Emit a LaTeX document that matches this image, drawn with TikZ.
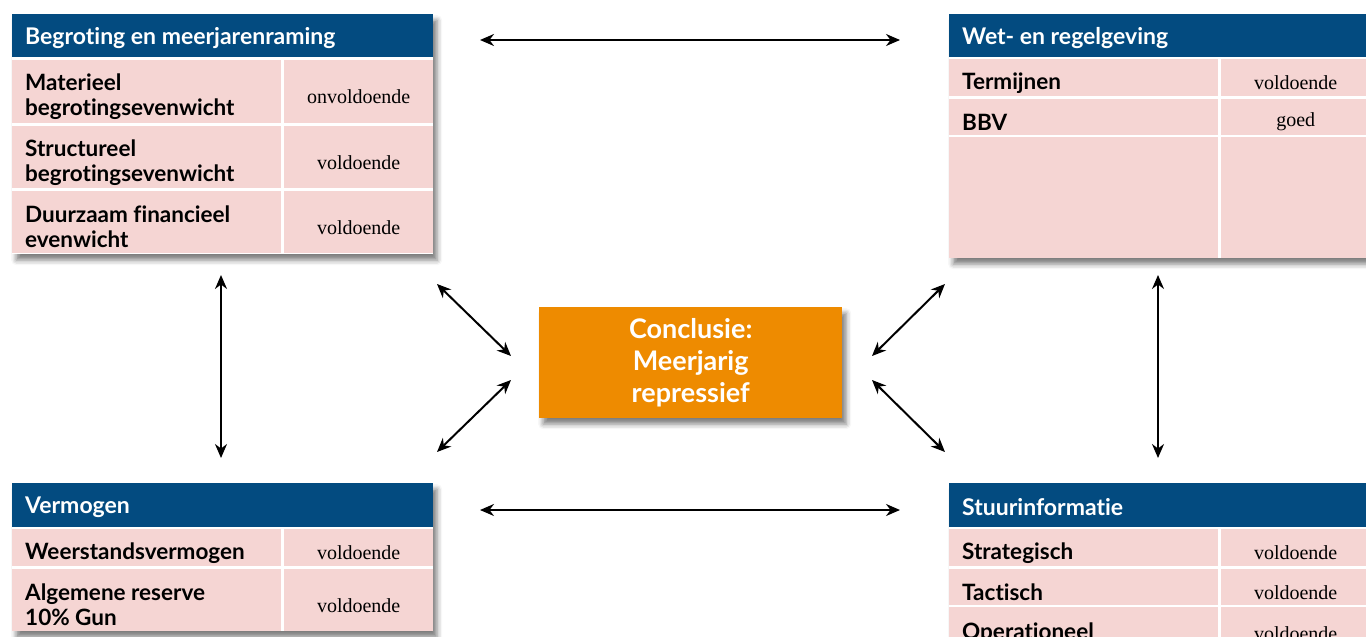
\documentclass[tikz,border=0pt]{standalone}
\usepackage{fontspec}
\setmainfont{Liberation Serif}
\setsansfont{Lato}[Ligatures=NoCommon]
\usetikzlibrary{arrows.meta,shadows.blur}
\definecolor{hdr}{HTML}{034B80}
\definecolor{pinkc}{HTML}{F5D5D3}
\definecolor{orng}{HTML}{EE8B00}
\tikzset{
  panel/.style={fill=white, draw=none, anchor=north west, inner sep=0pt,
    blur shadow={shadow xshift=4pt, shadow yshift=-6pt, shadow blur radius=5pt, shadow opacity=50}},
  hdrbox/.style={fill=hdr, draw=none, anchor=north west, inner sep=0pt},
  cellbox/.style={fill=pinkc, draw=none, anchor=north west, inner sep=0pt},
  hdrtxt/.style={text=white, anchor=west, inner sep=0pt, font=\sffamily\bfseries\fontsize{23}{26}\selectfont},
  lbl/.style={anchor=west, inner sep=0pt, align=left, font=\sffamily\bfseries\fontsize{22.5}{25}\selectfont},
  val/.style={inner sep=0pt, font=\fontsize{20}{22}\selectfont},
  conn/.style={line width=2pt, {Stealth[length=14pt,width=12pt]}-{Stealth[length=14pt,width=12pt]}},
  concl/.style={fill=orng, anchor=north west, inner sep=0pt,
    blur shadow={shadow xshift=4pt, shadow yshift=-6pt, shadow blur radius=5pt, shadow opacity=50}},
  concltxt/.style={text=white, align=center, font=\sffamily\bfseries\fontsize{27}{32}\selectfont}
}
\newcommand\mkhdr[6]{% name, x, y, w, h, text
  \node[hdrbox, minimum width=#4pt, minimum height=#5pt] (#1) at (#2,#3) {};
  \node[hdrtxt] (#1t) at ([xshift=13pt,yshift=-2pt]#1.west) {#6};}
\newcommand\mkrow[9]{% name, x, y, wL, h, label, x2, wR, value
  \node[cellbox, minimum width=#4pt, minimum height=#5pt] (#1L) at (#2,#3) {};
  \node[lbl] (#1Lt) at ([xshift=13pt,yshift=-5pt]#1L.west) {#6};
  \node[cellbox, minimum width=#8pt, minimum height=#5pt] (#1R) at (#7,#3) {};
  \node[val] (#1Rt) at ([yshift=-5pt]#1R.center) {#9};}
\begin{document}
\begin{tikzpicture}[x=1pt,y=-1pt]
\useasboundingbox (0,0) rectangle (1366,637);
% ---------- top left
\node[panel, minimum width=421pt, minimum height=240pt] (tl) at (12,14) {};
\mkhdr{tlh}{12}{14}{421}{43}{Begroting en meerjarenraming}
\mkrow{tla}{12}{60}{269}{63}{Materieel\\begrotingsevenwicht}{284}{149}{onvoldoende}
\mkrow{tlb}{12}{126}{269}{62}{Structureel\\begrotingsevenwicht}{284}{149}{voldoende}
\mkrow{tlc}{12}{191}{269}{62}{Duurzaam financieel\\evenwicht}{284}{149}{voldoende}
% ---------- top right
\node[panel, minimum width=421pt, minimum height=244pt] (tr) at (949,14) {};
\mkhdr{trh}{949}{14}{421}{43}{Wet- en regelgeving}
\mkrow{tra}{949}{59}{269}{37}{Termijnen}{1221}{149}{voldoende}
\mkrow{trb}{949}{99}{269}{36}{BBV}{1221}{149}{goed}
\mkrow{trc}{949}{137}{269}{121}{}{1221}{149}{}
% ---------- bottom left
\node[panel, minimum width=421pt, minimum height=148pt] (bl) at (12,483) {};
\mkhdr{blh}{12}{483}{421}{44}{Vermogen}
\mkrow{bla}{12}{529}{269}{37}{Weerstandsvermogen}{284}{149}{voldoende}
\mkrow{blb}{12}{569}{269}{62}{Algemene reserve\\10\% Gun}{284}{149}{voldoende}
% ---------- bottom right
\node[panel, minimum width=421pt, minimum height=170pt] (br) at (949,483) {};
\mkhdr{brh}{949}{483}{421}{44}{Stuurinformatie}
\mkrow{bra}{949}{529}{269}{37}{Strategisch}{1221}{149}{voldoende}
\mkrow{brb}{949}{569}{269}{36}{Tactisch}{1221}{149}{voldoende}
\mkrow{brc}{949}{607}{269}{42}{Operationeel}{1221}{149}{voldoende}
% ---------- conclusion
\node[concl, minimum width=303pt, minimum height=111pt] (cc) at (539,307) {};
\node[concltxt] (cct) at (cc.center) {Conclusie:\\Meerjarig\\repressief};
% ---------- connector ends
\coordinate (t1) at (480,40);   \coordinate (t2) at (900,40);
\coordinate (b1) at (480,510);  \coordinate (b2) at (900,510);
\coordinate (l1) at (221,275);  \coordinate (l2) at (221,458);
\coordinate (r1) at (1158,275); \coordinate (r2) at (1158,458);
\coordinate (d1) at (437,284);  \coordinate (d2) at (511,356);
\coordinate (d3) at (437,452);  \coordinate (d4) at (511,380);
\coordinate (d5) at (945,284);  \coordinate (d6) at (872,356);
\coordinate (d7) at (945,452);  \coordinate (d8) at (872,380);
\draw[conn] (t1) -- (t2);
\draw[conn] (b1) -- (b2);
\draw[conn] (l1) -- (l2);
\draw[conn] (r1) -- (r2);
\draw[conn] (d1) -- (d2);
\draw[conn] (d3) -- (d4);
\draw[conn] (d5) -- (d6);
\draw[conn] (d7) -- (d8);
\end{tikzpicture}
\end{document}
